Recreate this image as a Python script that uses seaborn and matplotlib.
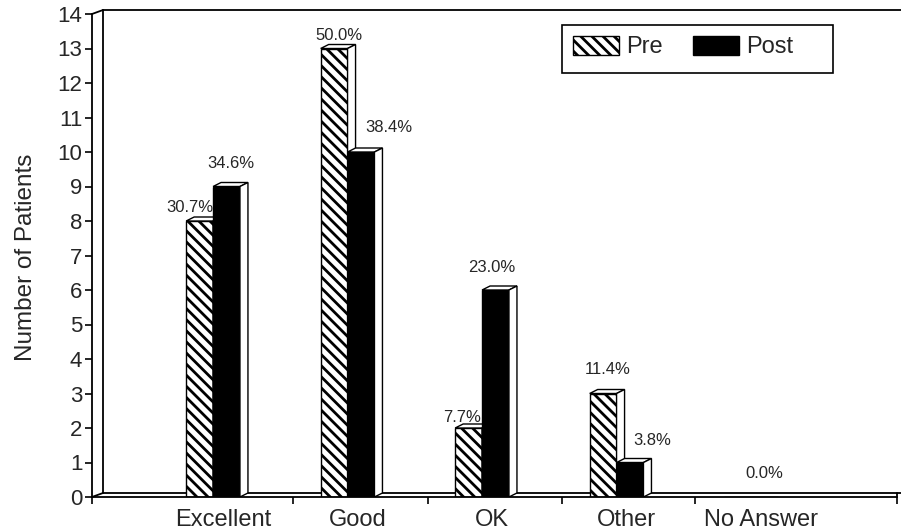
import matplotlib
matplotlib.use("Agg")
import matplotlib.pyplot as plt
import matplotlib.transforms as mtransforms
from matplotlib.patches import Polygon, Patch, Rectangle
import numpy as np
import pandas as pd
import seaborn as sns

# Survey results: number of patients per rating, before and after
categories = ["Excellent", "Good", "OK", "Other", "No Answer"]
series = ["Pre", "Post"]
pre_counts = [8, 13, 2, 3, 0]
post_counts = [9, 10, 6, 1, 0]
pre_labels = ["30.7%", "50.0%", "7.7%", "11.4%", ""]
post_labels = ["34.6%", "38.4%", "23.0%", "3.8%", "0.0%"]
y_ticks = list(range(0, 15))

df = pd.DataFrame({
    "Rating": categories * 2,
    "Survey": ["Pre"] * len(categories) + ["Post"] * len(categories),
    "Patients": pre_counts + post_counts,
})

sns.set_style("white")
plt.rcParams["font.family"] = ["Liberation Sans", "DejaVu Sans"]
plt.rcParams["hatch.linewidth"] = 2.0
plt.rcParams["hatch.color"] = "black"

DPI = 100
W, H = 901, 532
fig = plt.figure(figsize=(W / DPI, H / DPI), dpi=DPI)
fig.patch.set_facecolor("white")
ax = fig.add_axes([92 / W, 35 / H, 805 / W, 483 / H])

sns.barplot(data=df, x="Rating", y="Patients", hue="Survey",
            order=categories, hue_order=series,
            palette={"Pre": "white", "Post": "black"},
            saturation=1, width=0.4, edgecolor="black", linewidth=1.0,
            legend=False, ax=ax)

XMIN, XMAX = -0.90, 5.085
ax.set_xlim(XMIN, XMAX)
ax.set_ylim(0, 14)
for s in ax.spines.values():
    s.set_visible(False)
ax.set_facecolor("white")

# pixel scale of the data axes, used for the fake depth of the 3-D look
fig.canvas.draw()
bb = ax.get_window_extent()
px_x = bb.width / (XMAX - XMIN)
px_y = bb.height / 14.0

# bar depth (pixels)
BDX, BDY = 8, 4
ddx, ddy = BDX / px_x, BDY / px_y

hatches = ["\\\\\\", None]
for k, cont in enumerate(ax.containers):
    for bar in cont:
        bar.set_zorder(3 + 2 * k)
        if hatches[k]:
            bar.set_hatch(hatches[k])
        x0, w, h = bar.get_x(), bar.get_width(), bar.get_height()
        if h <= 0:
            continue
        top = Polygon([(x0, h), (x0 + w, h), (x0 + w + ddx, h + ddy), (x0 + ddx, h + ddy)],
                      closed=True, facecolor="white", edgecolor="black", lw=1.0,
                      zorder=3 + 2 * k)
        side = Polygon([(x0 + w, 0), (x0 + w + ddx, ddy), (x0 + w + ddx, h + ddy), (x0 + w, h)],
                       closed=True, facecolor="white", edgecolor="black", lw=1.0,
                       zorder=3 + 2 * k)
        ax.add_patch(top)
        ax.add_patch(side)

# back wall and floor, shifted up-right to suggest depth
WDX, WDY = 11, 4
back = mtransforms.offset_copy(ax.transData, fig=fig, x=WDX, y=WDY, units="dots")
lkw = dict(color="black", lw=1.3, clip_on=False, zorder=1)
ax.plot([XMIN, XMIN], [0, 14], transform=back, **lkw)
ax.plot([XMIN, XMAX + 0.1], [14, 14], transform=back, **lkw)
ax.plot([XMIN, XMAX], [0, 0], transform=back, **lkw)
ax.plot([XMIN, XMIN], [0, 14], **lkw)
ax.plot([XMIN, XMAX], [0, 0], color="black", lw=1.3, clip_on=False, zorder=8)
# connectors between front and back planes
for (xx, yy) in [(XMIN, 0), (XMIN, 14)]:
    p0 = ax.transData.transform((xx, yy))
    p1 = p0 + np.array([WDX, WDY])
    ax.plot([p0[0], p1[0]], [p0[1], p1[1]], transform=None,
            color="black", lw=1.3, clip_on=False, zorder=1)
# right end of the floor
pr = ax.transData.transform((XMAX, 0))
ax.plot([pr[0], pr[0]], [pr[1], pr[1] + WDY], transform=None,
        color="black", lw=1.3, clip_on=False, zorder=8)

# y axis ticks
ax.set_yticks(y_ticks)
ax.tick_params(axis="y", left=True, direction="out", length=5, width=1.2,
               color="black", labelsize=16, pad=2)
ax.set_ylabel("Number of Patients", fontsize=17.5)
ax.yaxis.set_label_coords(-0.068, 0.497)

# category labels, nudged right to sit under the front of the bars
ax.set_xlabel("")
ax.set_xticks(range(len(categories)))
ax.set_xticklabels(categories)
ax.tick_params(axis="x", bottom=True, length=0, labelsize=17, pad=9)
shift = mtransforms.ScaledTranslation(10 / DPI, 0, fig.dpi_scale_trans)
for lab in ax.get_xticklabels():
    lab.set_transform(lab.get_transform() + shift)
# separator ticks along the floor
ax.set_xticks([XMIN, 0.595, 1.595, 2.595, 3.58, XMAX], minor=True)
ax.tick_params(axis="x", which="minor", bottom=True, direction="out",
               length=5, width=1.2, color="black")

# value labels (offsets in pixels from the top centre of each bar)
pre_off = [(-10, 13), (5, 13), (-7, 10), (5, 24), (0, 24)]
post_off = [(4, 23), (28, 24), (-4, 22), (22, 22), (0, 24)]
for cont, labels, offs in zip(ax.containers, [pre_labels, post_labels], [pre_off, post_off]):
    for bar, txt, (ox, oy) in zip(cont, labels, offs):
        if not txt:
            continue
        ax.annotate(txt, (bar.get_x() + bar.get_width() / 2, bar.get_height()),
                    xytext=(ox, oy), textcoords="offset pixels",
                    ha="center", va="center", fontsize=12, zorder=10)

# legend: entries without frame, boxed by a separate rectangle
handles = [Patch(facecolor="white", edgecolor="black", hatch="\\\\\\", lw=1.0),
           Patch(facecolor="black", edgecolor="black", lw=1.0)]
leg = fig.legend(handles, series, loc="center left",
                 bbox_to_anchor=(573 / W, (H - 47) / H), ncol=2, fontsize=17,
                 frameon=False, borderaxespad=0, borderpad=0,
                 handlelength=1.95, handleheight=0.85, handletextpad=0.3,
                 columnspacing=1.3)
fig.add_artist(Rectangle((562 / W, (H - 73) / H), (833 - 562) / W, 48 / H,
                         transform=fig.transFigure, facecolor="none",
                         edgecolor="black", lw=1.2, zorder=20))

fig.savefig("out.png", dpi=DPI, facecolor="white")
